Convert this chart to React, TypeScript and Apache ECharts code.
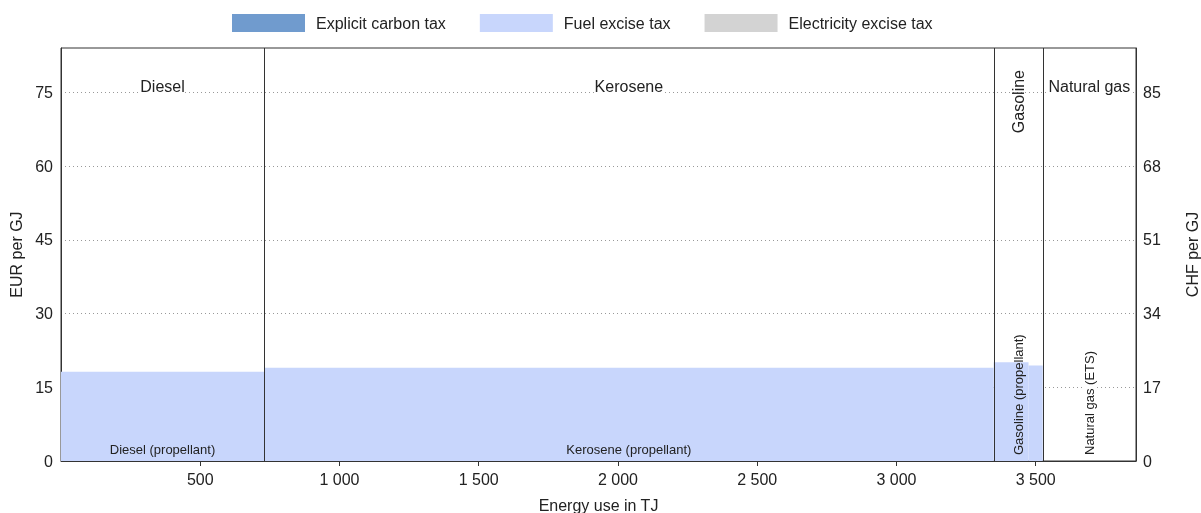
import { useEffect, useRef } from "react";
import * as echarts from "echarts";

// ---- Data ----
const segmentFuels = ["Diesel", "Kerosene", "Gasoline", "Gasoline", "Natural gas"];
const segmentUses = [
  "Diesel (propellant)",
  "Kerosene (propellant)",
  "Gasoline (propellant)",
  "Gasoline (propellant)",
  "Natural gas (ETS)",
];
const energyUseTJ = [729, 2620, 125, 51, 335];
const carbonTax = [0, 0, 0, 0, 0];
const fuelExcise = [18.15, 18.95, 20.1, 19.4, 0];
const electricityTax = [0, 0, 0, 0, 0];
const layerNames = ["Explicit carbon tax", "Fuel excise tax", "Electricity excise tax"];
const xTickValues = [500, 1000, 1500, 2000, 2500, 3000, 3500];
const eurMax = 84;
const eurInterval = 15;
const chfPerEur = 85 / 75;
const chfInterval = 17;

const layerColors = ["#709bce", "#c8d6fc", "#d3d3d3"];
const FONT = '"Liberation Sans", Arial, sans-serif';

export default function App() {
  const ref = useRef<HTMLDivElement>(null);
  useEffect(() => {
    const chart = echarts.init(ref.current!, null, { renderer: "svg" });

    const starts: number[] = [];
    let acc = 0;
    energyUseTJ.forEach((w) => {
      starts.push(acc);
      acc += w;
    });
    const totalTJ = acc;

    const layers = [carbonTax, fuelExcise, electricityTax];
    const layerData = layers.map((vals, li) =>
      vals.map((v, i) => {
        let base = 0;
        for (let k = 0; k < li; k++) base += layers[k][i];
        return [starts[i], starts[i] + energyUseTJ[i], base, base + v];
      })
    );

    // groups of consecutive same fuel
    const groups: { fuel: string; use: string; start: number; end: number; maxVal: number }[] = [];
    segmentFuels.forEach((f, i) => {
      const total = carbonTax[i] + fuelExcise[i] + electricityTax[i];
      const last = groups[groups.length - 1];
      if (last && last.fuel === f) {
        last.end = starts[i] + energyUseTJ[i];
        last.maxVal = Math.max(last.maxVal, total);
      } else {
        groups.push({ fuel: f, use: segmentUses[i], start: starts[i], end: starts[i] + energyUseTJ[i], maxVal: total });
      }
    });

    const canvas = document.createElement("canvas");
    const ctx = canvas.getContext("2d")!;
    const measure = (t: string, size: number) => {
      ctx.font = `${size}px ${FONT}`;
      return ctx.measureText(t).width;
    };

    const rectSeries = layerNames.map((name, li) => ({
      name,
      type: "custom",
      itemStyle: { color: layerColors[li] },
      encode: { x: [0, 1], y: [2, 3] },
      data: layerData[li],
      renderItem: (params: any, api: any) => {
        const x0 = api.value(0), x1 = api.value(1), b = api.value(2), t = api.value(3);
        if (!(t > b)) return null;
        const p0 = api.coord([x0, t]);
        const p1 = api.coord([x1, b]);
        return {
          type: "rect",
          shape: { x: p0[0], y: p0[1], width: p1[0] - p0[0], height: p1[1] - p0[1] },
          style: { fill: layerColors[li] },
        };
      },
    }));

    const labelSeries = {
      name: "labels",
      type: "custom",
      z: 5,
      encode: { x: [0, 1] },
      data: groups.map((g, i) => [g.start, g.end, i]),
      renderItem: (params: any, api: any) => {
        const idx = api.value(2);
        const g = groups[idx];
        const cs = params.coordSys;
        const xa = api.coord([g.start, 0])[0];
        const xb = api.coord([g.end, 0])[0];
        const w = xb - xa;
        const cx = (xa + xb) / 2;
        const top = cs.y;
        const bottom = cs.y + cs.height;
        const children: any[] = [];
        if (idx < groups.length - 1) {
          children.push({
            type: "line",
            shape: { x1: Math.round(xb) + 0.5, y1: top, x2: Math.round(xb) + 0.5, y2: bottom },
            style: { stroke: "#333", lineWidth: 1 },
          });
        }
        const topRot = measure(g.fuel, 16) > w - 8;
        if (topRot) {
          children.push({
            type: "text",
            x: cx,
            y: top + 22,
            rotation: Math.PI / 2,
            style: { text: g.fuel, font: `16px ${FONT}`, fill: "#222", align: "right", verticalAlign: "middle" },
          });
        } else {
          children.push({
            type: "text",
            x: cx,
            y: top + 38,
            style: { text: g.fuel, font: `16px ${FONT}`, fill: "#222", align: "center", verticalAlign: "middle", backgroundColor: "#fff" },
          });
        }
        const botRot = measure(g.use, 13) > w - 8;
        const bg = g.maxVal > 0 ? undefined : "#fff";
        if (botRot) {
          children.push({
            type: "text",
            x: cx,
            y: bottom - 6,
            rotation: Math.PI / 2,
            style: { text: g.use, font: `13px ${FONT}`, fill: "#222", align: "left", verticalAlign: "middle", backgroundColor: bg },
          });
        } else {
          children.push({
            type: "text",
            x: cx,
            y: bottom - 12,
            style: { text: g.use, font: `13px ${FONT}`, fill: "#222", align: "center", verticalAlign: "middle", backgroundColor: bg },
          });
        }
        return { type: "group", children };
      },
    };

    const fmtNum = (v: number) => String(v).replace(/\B(?=(\d{3})+(?!\d))/g, " ");

    chart.setOption({
      animation: false,
      textStyle: { fontFamily: FONT },
      legend: {
        data: layerNames,
        left: 232,
        top: 14,
        padding: 0,
        icon: "rect",
        itemWidth: 73,
        itemHeight: 18,
        itemGap: 34,
        selectedMode: false,
        textStyle: { fontSize: 16, color: "#222", padding: [0, 0, 0, 6], fontFamily: FONT },
      },
      grid: {
        left: 61,
        right: 65,
        top: 48,
        bottom: 52,
        outerBoundsMode: "none",
        containLabel: false,
        show: true,
        borderColor: "#333",
        borderWidth: 1,
        backgroundColor: "transparent",
      },
      xAxis: {
        type: "value",
        min: 0,
        max: totalTJ,
        interval: 500,
        name: "Energy use in TJ",
        nameLocation: "middle",
        nameGap: 36,
        nameTextStyle: { fontSize: 16, color: "#222", fontFamily: FONT },
        axisLine: { show: true, lineStyle: { color: "#333" } },
        axisTick: { show: true, length: 5, lineStyle: { color: "#333" }, customValues: xTickValues },
        axisLabel: {
          fontSize: 16,
          color: "#222",
          margin: 10,
          customValues: xTickValues,
          formatter: (v: number) => fmtNum(v),
        },
        splitLine: { show: false },
      },
      yAxis: [
        {
          type: "value",
          min: 0,
          max: eurMax,
          interval: eurInterval,
          name: "EUR per GJ",
          nameLocation: "middle",
          nameRotate: 90,
          nameGap: 36,
          nameTextStyle: { fontSize: 16, color: "#222", fontFamily: FONT },
          axisLine: { show: true, lineStyle: { color: "#333" } },
          axisTick: { show: false },
          axisLabel: { fontSize: 16, color: "#222", margin: 8, showMaxLabel: false },
          splitLine: { show: true, lineStyle: { color: "#999", type: [1, 3], width: 1 } },
        },
        {
          type: "value",
          min: 0,
          max: eurMax * chfPerEur,
          interval: chfInterval,
          position: "right",
          name: "CHF per GJ",
          nameLocation: "middle",
          nameRotate: 90,
          nameGap: 48,
          nameTextStyle: { fontSize: 16, color: "#222", fontFamily: FONT },
          axisLine: { show: true, lineStyle: { color: "#333" } },
          axisTick: { show: false },
          axisLabel: { fontSize: 16, color: "#222", margin: 7, showMaxLabel: false },
          splitLine: { show: false },
        },
      ],
      series: [...rectSeries, labelSeries],
    });
    return () => chart.dispose();
  }, []);
  return <div ref={ref} style={{ position: "fixed", left: 0, top: 0, width: 1201, height: 513 }} />;
}
